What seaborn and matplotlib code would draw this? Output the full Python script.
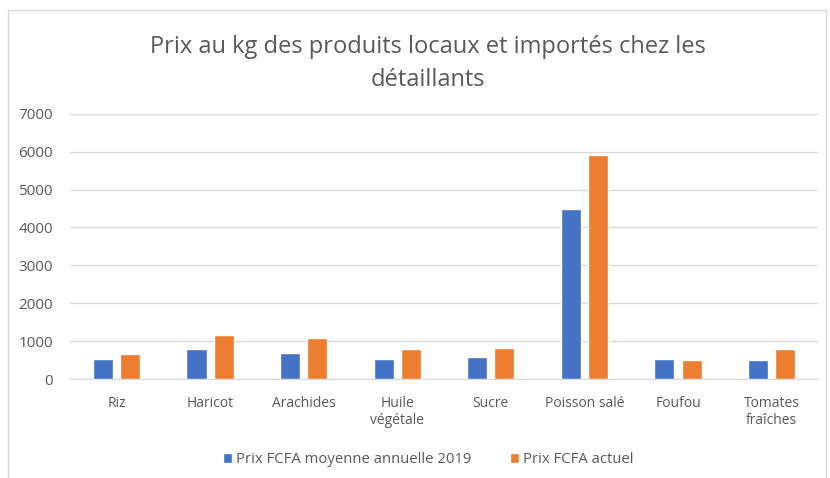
import pandas as pd
import matplotlib.pyplot as plt
import seaborn as sns
from matplotlib.patches import Rectangle

# Data
produits = ['Riz', 'Haricot', 'Arachides', 'Huile\nvégétale', 'Sucre',
            'Poisson salé', 'Foufou', 'Tomates\nfraîches']
prix_2019 = [520, 800, 680, 540, 590, 4490, 520, 500]
prix_actuel = [650, 1160, 1090, 780, 810, 5900, 515, 780]
series = ['Prix FCFA moyenne annuelle 2019', 'Prix FCFA actuel']

df = pd.DataFrame({
    'produit': produits * 2,
    'prix': prix_2019 + prix_actuel,
    'serie': [series[0]] * len(produits) + [series[1]] * len(produits),
})

sns.set_style('white')
plt.rcParams['font.family'] = ['Open Sans', 'DejaVu Sans']
text_col = '#595959'

fig = plt.figure(figsize=(8.3, 4.78), dpi=100)
ax = fig.add_axes([0.084, 0.207, 0.902, 0.555])

sns.barplot(data=df, x='produit', y='prix', hue='serie', ax=ax,
            palette=['#4472C4', '#ED7D31'], saturation=1, width=0.58, gap=0.26,
            errorbar=None, zorder=3)

ax.set_xlim(-0.5, 7.5)
ax.set_ylim(0, 7000)
ax.set_yticks(range(0, 7001, 1000))
ax.yaxis.grid(True, color='#D9D9D9', linewidth=1, zorder=0)
ax.set_xlabel('')
ax.set_ylabel('')
for s in ['top', 'right', 'left']:
    ax.spines[s].set_visible(False)
ax.spines['bottom'].set_color('#D9D9D9')
ax.tick_params(axis='both', length=0, colors=text_col)
ax.tick_params(axis='x', labelsize=10, pad=12)
ax.tick_params(axis='y', labelsize=11, pad=12)

ax.set_title('Prix au kg des produits locaux et importés chez les\ndétaillants',
             fontsize=17, color=text_col, pad=20, linespacing=1.5, x=0.479)

ax.legend(loc='upper center', bbox_to_anchor=(0.479, -0.225), ncol=2,
          frameon=False, fontsize=10.7, labelcolor=text_col, handlelength=0.6,
          handleheight=0.6, handletextpad=0.3, columnspacing=2.6)

# chart border
fig.patches.append(Rectangle((8 / 830, -0.01), 818 / 830, 1 - 10 / 478 + 0.01,
                             transform=fig.transFigure, fill=False,
                             edgecolor='#D9D9D9', linewidth=1))

fig.savefig('out.png', dpi=100)
